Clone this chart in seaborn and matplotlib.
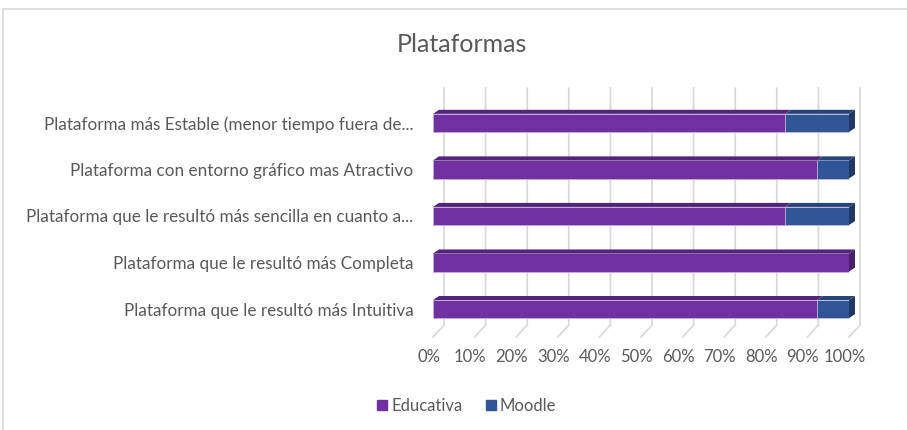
import numpy as np
import pandas as pd
import seaborn as sns
import matplotlib.pyplot as plt
from matplotlib.patches import Polygon, Rectangle
from matplotlib.lines import Line2D
from matplotlib.transforms import IdentityTransform, ScaledTranslation

# ---- data ----
categories = [
    "Plataforma más Estable (menor tiempo fuera de...",
    "Plataforma con entorno gráfico mas Atractivo",
    "Plataforma que le resultó más sencilla en cuanto a...",
    "Plataforma que le resultó más Completa",
    "Plataforma que le resultó más Intuitiva",
]
educativa = [84.6, 92.3, 84.6, 100.0, 92.3]
moodle = [15.4, 7.7, 15.4, 0.0, 7.7]
series_names = ["Educativa", "Moodle"]
ticks = list(range(0, 101, 10))
tick_labels = [f"{t}%" for t in ticks]
title = "Plataformas"

# ---- style ----
W, H = 907, 430
EDU = "#7030A0"
MOO = "#2F5597"
EDU_TOP = "#56237C"
MOO_TOP = "#254478"
EDU_SIDE = "#4A1F6B"
MOO_SIDE = "#1F3864"
GRID = "#D9D9D9"
TXT = "#595959"
DX, DY = 6, 4          # 3D depth of bars (px)
GDX = 11               # back-wall offset of gridlines (px)

sns.set_theme(style="white")
plt.rcParams['font.family'] = ['Lato', 'DejaVu Sans']

fig = plt.figure(figsize=(W / 100, H / 100), dpi=100)
ax_top, ax_bot = 88, 337
ax = fig.add_axes([433 / W, 1 - ax_bot / H, 416 / W, (ax_bot - ax_top) / H])
ax.set_facecolor("none")

df = pd.DataFrame({"cat": categories, "Educativa": educativa, "Moodle": moodle})
df["total"] = df["Educativa"] + df["Moodle"]

BW = 0.39
sns.barplot(data=df, y="cat", x="total", color=MOO, saturation=1, width=BW,
            orient="h", ax=ax, edgecolor="#C9B8DC", linewidth=0.6, zorder=3)
sns.barplot(data=df, y="cat", x="Educativa", color=EDU, saturation=1, width=BW,
            orient="h", ax=ax, edgecolor="#C9B8DC", linewidth=0.6, zorder=4)

ax.set_xlim(0, 100)
ax.set_ylim(4.6, -0.75)
for s in ax.spines.values():
    s.set_visible(False)
ax.grid(False)
ax.set_xlabel("")
ax.set_ylabel("")
ax.set_xticks(ticks)
ax.set_xticklabels(tick_labels, fontsize=12, color=TXT)
ax.tick_params(axis="x", length=0, pad=9)
ax.tick_params(axis="y", length=0, pad=14, labelsize=12.3, labelcolor=TXT)
off = ScaledTranslation(-4.5 / 100, 0, fig.dpi_scale_trans)
for lab in ax.get_xticklabels():
    lab.set_transform(lab.get_transform() + off)

# ---- 3D gridlines (back wall + floor) ----
fig.canvas.draw()
T = ax.transData
ident = IdentityTransform()
y_top_disp = H - ax_top
y_backbot_disp = H - 325
y_front_disp = H - ax_bot
for t in ticks:
    xd = T.transform((t, 0))[0]
    ax.add_line(Line2D([xd + GDX, xd + GDX, xd], [y_top_disp, y_backbot_disp, y_front_disp],
                       transform=ident, color=GRID, lw=1.3, zorder=1, clip_on=False))

# ---- 3D faces of bars ----
for i, (e, m) in enumerate(zip(educativa, moodle)):
    (x0, yb), = T.transform([(0, i + BW / 2)])
    (_, yt), = T.transform([(0, i - BW / 2)])
    xe = T.transform((e, 0))[0]
    xt = T.transform((e + m, 0))[0]
    segs = [(x0, xe, EDU_TOP), (xe, xt, MOO_TOP)]
    for a, b, c in segs:
        if b - a > 0.5:
            ax.add_patch(Polygon([(a, yt), (b, yt), (b + DX, yt + DY), (a + DX, yt + DY)],
                                 closed=True, transform=ident, facecolor=c,
                                 edgecolor="none", zorder=5, clip_on=False))
    side = MOO_SIDE if m > 0 else EDU_SIDE
    ax.add_patch(Polygon([(xt, yb), (xt, yt), (xt + DX, yt + DY), (xt + DX, yb + DY)],
                         closed=True, transform=ident, facecolor=side,
                         edgecolor="none", zorder=5, clip_on=False))

# ---- title, legend, border ----
fig.text(462 / W, 1 - 52 / H, title, ha="center", va="baseline", fontsize=18, color=TXT)
handles = [Line2D([], [], marker="s", linestyle="none", markersize=7, color=c)
           for c in (EDU, MOO)]
fig.legend(handles, series_names, loc="center", bbox_to_anchor=(465 / W, 1 - 406 / H),
           ncol=2, frameon=False, fontsize=12, labelcolor=TXT, handletextpad=0.05,
           columnspacing=1.2, handlelength=1.0)
fig.patches.append(Rectangle((3 / W, -0.05), 1.0, 1 - 9 / H + 0.05, transform=fig.transFigure,
                             facecolor="none", edgecolor=GRID, lw=1.2, zorder=0))

fig.savefig("out.png", dpi=100)
